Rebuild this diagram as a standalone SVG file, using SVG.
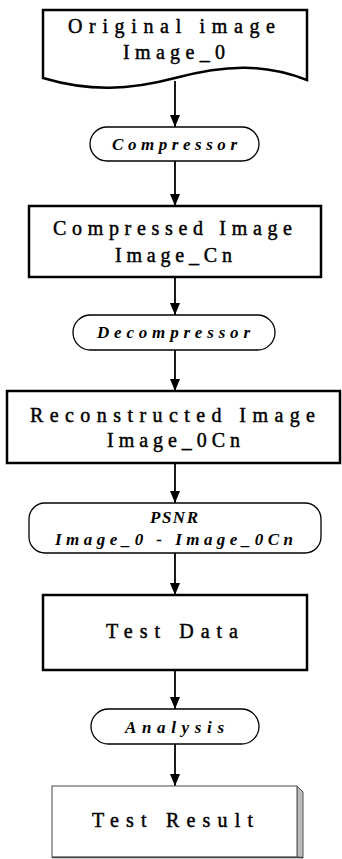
<svg xmlns="http://www.w3.org/2000/svg" width="342" height="859" viewBox="0 0 342 859">
<defs>
<style>
.box{fill:#fff;stroke:#000;stroke-width:2.5}
.term{fill:#fff;stroke:#000;stroke-width:1.3}
.t{font-family:"Liberation Serif","Times New Roman",serif;font-size:20px;fill:#000;stroke:#000;stroke-width:0.45}
.ti{font-family:"Liberation Serif","Times New Roman",serif;font-size:17px;font-style:italic;font-weight:bold;fill:#000}
.c{stroke:#000;stroke-width:1.8;fill:none;marker-end:url(#ah)}
</style>
<marker id="ah" viewBox="0 0 12 10" refX="12" refY="5" markerWidth="12" markerHeight="10" markerUnits="userSpaceOnUse" orient="auto">
<path d="M0,0 L12,5 L0,10 Z" fill="#000"/>
</marker>
</defs>
<g id="connectors">
<line class="c" x1="175" y1="81" x2="175" y2="127"/>
<line class="c" x1="175" y1="161" x2="175" y2="206"/>
<line class="c" x1="175" y1="277" x2="175" y2="315"/>
<line class="c" x1="175" y1="350" x2="175" y2="391"/>
<line class="c" x1="175" y1="463" x2="175" y2="503"/>
<line class="c" x1="175" y1="553" x2="175" y2="595"/>
<line class="c" x1="175" y1="670" x2="175" y2="709"/>
<line class="c" x1="175" y1="744" x2="175" y2="786"/>
</g>
<g id="original">
<path class="box" d="M43,10 L307,10 L307,80 C265,64 228,64 175,78 C130,90 90,92 43,78 Z"/>
<text class="t" x="68" y="33" textLength="207" lengthAdjust="spacing">Original image</text>
<text class="t" x="123" y="59" textLength="102" lengthAdjust="spacing">Image_0</text>
</g>
<g id="compressor">
<rect class="term" x="90" y="127" width="169" height="34" rx="17"/>
<text class="ti" x="112" y="150" textLength="125" lengthAdjust="spacing">Compressor</text>
</g>
<g id="compressed">
<rect class="box" x="29" y="206" width="292" height="71"/>
<text class="t" x="53" y="235" textLength="239" lengthAdjust="spacing">Compressed Image</text>
<text class="t" x="115" y="262" textLength="117" lengthAdjust="spacing">Image_Cn</text>
</g>
<g id="decompressor">
<rect class="term" x="73" y="315" width="202" height="35" rx="17.5"/>
<text class="ti" x="97" y="338" textLength="153" lengthAdjust="spacing">Decompressor</text>
</g>
<g id="reconstructed">
<rect class="box" x="7" y="391" width="333" height="72"/>
<text class="t" x="30" y="422" textLength="285" lengthAdjust="spacing">Reconstructed Image</text>
<text class="t" x="107" y="447" textLength="133" lengthAdjust="spacing">Image_0Cn</text>
</g>
<g id="psnr">
<rect class="term" x="29" y="503" width="292" height="50" rx="16"/>
<text class="ti" x="150" y="523" textLength="48" lengthAdjust="spacing">PSNR</text>
<text class="ti" x="55" y="545" textLength="238" lengthAdjust="spacing">Image_0 - Image_0Cn</text>
</g>
<g id="testdata">
<rect class="box" x="43" y="595" width="264" height="75"/>
<text class="t" x="106" y="638" textLength="132" lengthAdjust="spacing">Test Data</text>
</g>
<g id="analysis">
<rect class="term" x="91" y="709" width="168" height="35" rx="17.5"/>
<text class="ti" x="125" y="733" textLength="99" lengthAdjust="spacing">Analysis</text>
</g>
<g id="testresult">
<polygon points="297,786 303,792 303,858 297,857" fill="#bbb" stroke="#555" stroke-width="1"/>
<rect x="52" y="786" width="245" height="71" fill="#fff" stroke="#666" stroke-width="1.2"/>
<line x1="52" y1="857.5" x2="303" y2="857.5" stroke="#444" stroke-width="1.5"/>
<text class="t" x="92" y="827" textLength="161" lengthAdjust="spacing">Test Result</text>
</g>
</svg>
